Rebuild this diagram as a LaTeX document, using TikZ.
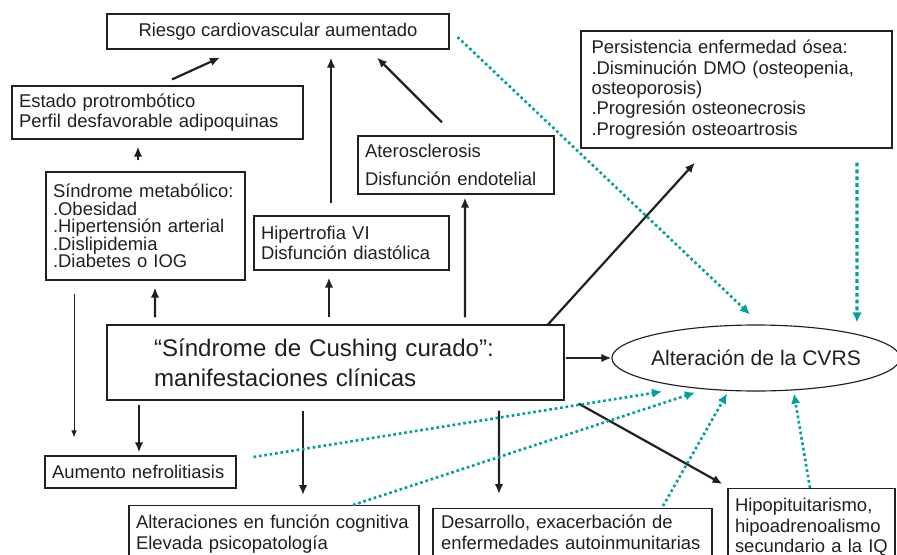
\documentclass[tikz,border=0pt]{standalone}
\usepackage{fontspec}
\setmainfont{Liberation Sans}
\usetikzlibrary{arrows.meta,calc,shapes.geometric}
\definecolor{ink}{RGB}{35,31,32}
\definecolor{cvrsteal}{RGB}{0,160,158}
\newcommand{\boxfont}{\fontsize{10.5pt}{11.6pt}\selectfont}
\tikzset{%
  >={Latex[width=1.7mm,length=2mm]},
  % Specifications for style of nodes:
         base/.style = {rectangle, draw=ink, line width=0.65pt, inner sep=0pt,
                        text=ink, font=\boxfont, align=left},
      outcome/.style = {base, align=center},
       cutbox/.style = {base, anchor=north, text depth=1.3cm},
     qolshape/.style = {ellipse, draw=ink, line width=0.65pt, inner sep=0pt,
                        inner xsep=-0.06cm, text=ink,
                        font=\fontsize{12pt}{14pt}\selectfont},
  % Specifications for style of connectors:
         link/.style = {->, draw=ink, line width=1.25pt},
     thinlink/.style = {-{Latex[width=1.1mm,length=1.4mm]}, draw=ink, line width=0.5pt},
       impact/.style = {-{Latex[width=1.9mm,length=2mm]}, draw=cvrsteal,
                        line width=1.5pt, dash pattern=on 1.5pt off 1.6pt},
   impactbold/.style = {impact, line width=1.9pt, dash pattern=on 2.2pt off 1.7pt},
}

\begin{document}
\begin{tikzpicture}[x=0.02cm, y=-0.02cm]
  \useasboundingbox[fill=white] (0,0) rectangle (897,555);
  \clip (0,0) rectangle (897,555);
  % Specification of nodes (position, size)
  \node (riesgo) [outcome, minimum width=6.84cm, minimum height=0.70cm] at (278,31.5)
        {Riesgo cardiovascular aumentado};
  \node (estado) [base, minimum width=5.82cm, minimum height=1.06cm, text width=5.54cm]
        at (157.5,112.5) {Estado protrombótico\\Perfil desfavorable adipoquinas};
  \node (metabolico) [base, font=\fontsize{10.5pt}{9.9pt}\selectfont,
        minimum width=3.98cm, minimum height=2.16cm, text width=3.70cm] at (145.5,226)
        {Síndrome metabólico:\\.Obesidad\\.Hipertensión arterial\\.Dislipidemia\\.Diabetes o IOG};
  \node (hipertrofia) [base, minimum width=3.90cm, minimum height=1.08cm, text width=3.62cm]
        at (351.5,243) {Hipertrofia VI\\Disfunción diastólica};
  \node (ateros) [base, font=\fontsize{10.5pt}{15.9pt}\selectfont,
        minimum width=3.92cm, minimum height=1.16cm, text width=3.64cm] at (456,165)
        {Aterosclerosis\\Disfunción endotelial};
  \node (persistencia) [base, minimum width=6.22cm, minimum height=2.34cm, text width=5.80cm]
        at (736.5,89.5) {Persistencia enfermedad ósea:\\.Disminución DMO (osteopenia,\\%
        osteoporosis)\\.Progresión osteonecrosis\\.Progresión osteoartrosis};
  \node (cushing) [base, font=\fontsize{13.7pt}{17pt}\selectfont,
        minimum width=9.14cm, minimum height=1.50cm, text width=7.26cm] at (335.5,362.5)
        {“Síndrome de Cushing curado”:\\manifestaciones clínicas};
  \node (cvrs) [qolshape, minimum width=5.76cm, minimum height=1.32cm] at (756,358)
        {Alteración de la CVRS};
  \node (nefro) [base, minimum width=3.82cm, minimum height=0.64cm, text width=3.54cm]
        at (140.5,472) {Aumento nefrolitiasis};
  \node (cognitiva) [cutbox, inner ysep=0.19cm, minimum width=5.80cm, text width=5.52cm]
        at (274,505) {Alteraciones en función cognitiva\\Elevada psicopatología};
  \node (autoinmune) [cutbox, inner ysep=0.13cm, minimum width=5.58cm, text width=5.26cm]
        at (572.5,508) {Desarrollo, exacerbación de\\enfermedades autoinmunitarias};
  \node (hipopit) [cutbox, inner ysep=0.20cm, minimum width=3.34cm, text width=3.06cm]
        at (811.5,488) {Hipopituitarismo,\\hipoadrenoalismo\\secundario a la IQ};
  % Specification of lines between nodes specified above
  \draw[link] ($(estado.north)+(14.5,-6)$) -- ($(riesgo.south)+(-58,8)$);
  \draw[link] ($(metabolico.north)+(-7.5,-11)$) -- ($(estado.south)+(-19.5,7)$);
  \draw[link] ($(hipertrofia.north)+(-20.5,-12)$) -- ($(riesgo.south)+(53,8)$);
  \draw[link] ($(ateros.north)+(-14,-13)$) -- ($(riesgo.south)+(99,8)$);
  \draw[link] ($(cushing.north)+(-180.5,-7)$) -- ($(metabolico.south)+(9.5,7)$);
  \draw[link] ($(cushing.north)+(-6.5,-7)$) -- ($(hipertrofia.south)+(-22.5,7)$);
  \draw[link] ($(cushing.north)+(129.5,-7)$) -- ($(ateros.south)+(9,3)$);
  \draw[link] ($(cushing.north)+(212.5,0)$) -- ($(persistencia.south)+(-41.5,14)$);
  \draw[link] ($(cushing.east)+(1,-4.5)$) -- (cvrs.west);
  \draw[link] ($(cushing.south)+(-196.5,4)$) -- ($(nefro.north)+(-1.5,-3)$);
  \draw[thinlink] ($(metabolico.south)+(-71.5,13)$) -- ($(nefro.north)+(-66.5,-18)$);
  \draw[link] ($(cushing.south)+(-32.5,10)$) -- ($(cognitiva.north)+(29,-10)$);
  \draw[link] ($(cushing.south)+(163.5,10)$) -- ($(autoinmune.north)+(-73.5,-14)$);
  \draw[link] ($(cushing.south east)+(14,3)$) -- ($(hipopit.north west)+(-5,-4)$);
  % dotted lines towards the quality of life node
  \draw[impact] ($(riesgo.east)+(8,5.5)$) -- ($(cvrs.north)+(-6,-10)$);
  \draw[impactbold] ($(persistencia.south)+(120.5,14)$) -- ($(cvrs.north)+(101,-2)$);
  \draw[impact] ($(nefro.east)+(17,-15)$) -- ($(cvrs.south)+(-94,0)$);
  \draw[impact] ($(cognitiva.north)+(79,0)$) -- ($(cvrs.south)+(-61,1)$);
  \draw[impact] ($(autoinmune.north)+(90.5,-2)$) -- ($(cvrs.south)+(-29,2)$);
  \draw[impact] ($(hipopit.north)+(-1.5,0)$) -- ($(cvrs.south)+(38,2)$);
\end{tikzpicture}
\end{document}
